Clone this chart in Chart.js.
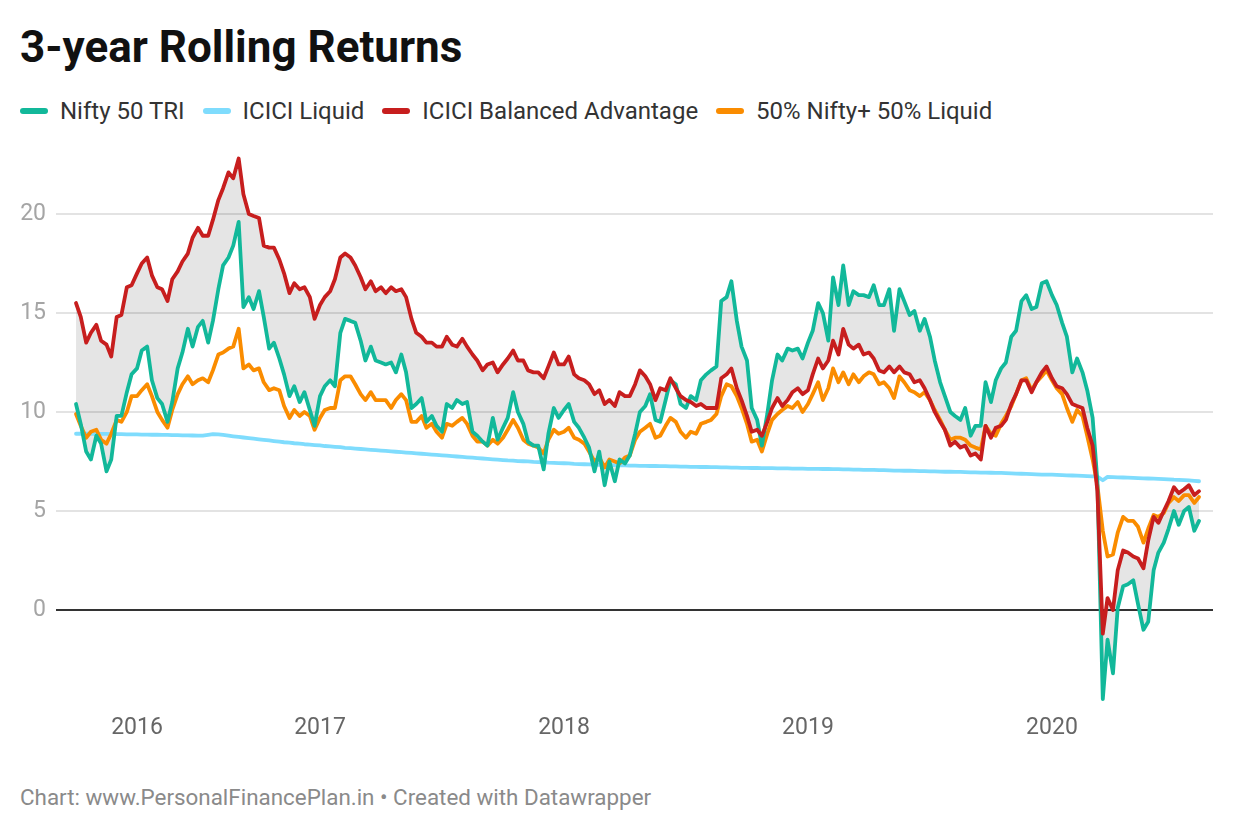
<!DOCTYPE html>
<html>
<head>
<meta charset="utf-8">
<script src="https://cdn.jsdelivr.net/npm/chart.js@4.4.1/dist/chart.umd.min.js"></script>
<style>
html,body{margin:0;padding:0;background:#fff;}
body{width:1240px;height:840px;position:relative;overflow:hidden;font-family:Roboto,"Noto Sans",sans-serif;}
#title{position:absolute;left:20px;top:25px;font-size:44px;line-height:1;font-weight:700;color:#111;white-space:nowrap;}
#legend{position:absolute;left:20px;top:99px;display:flex;align-items:center;font-size:24px;line-height:1;color:#333;white-space:nowrap;}
.item{display:flex;align-items:center;margin-right:18px;}
.swatch{width:28px;height:6px;border-radius:3px;margin-right:12px;}
#wrap{position:absolute;left:0;top:140px;width:1240px;height:640px;}
#footer{position:absolute;left:20px;top:786px;font-size:22.4px;line-height:1;color:#8a8a8a;white-space:nowrap;}
</style>
</head>
<body>
<div id="title">3-year Rolling Returns</div>
<div id="legend"></div>
<div id="wrap"><canvas id="c"></canvas></div>
<div id="footer">Chart: www.PersonalFinancePlan.in • Created with Datawrapper</div>
<script>
// ---------- DATA ----------
const dates = [
"2016-01-01","2016-01-08","2016-01-16","2016-01-23","2016-02-01","2016-02-08","2016-02-16","2016-02-23",
"2016-03-01","2016-03-08","2016-03-16","2016-03-23","2016-04-01","2016-04-08","2016-04-16","2016-04-23",
"2016-05-01","2016-05-08","2016-05-16","2016-05-23","2016-06-01","2016-06-08","2016-06-16","2016-06-23",
"2016-07-01","2016-07-08","2016-07-16","2016-07-23","2016-08-01","2016-08-08","2016-08-16","2016-08-23",
"2016-09-01","2016-09-08","2016-09-16","2016-09-23","2016-10-01","2016-10-08","2016-10-16","2016-10-23",
"2016-11-01","2016-11-08","2016-11-16","2016-11-23","2016-12-01","2016-12-08","2016-12-16","2016-12-23",
"2017-01-01","2017-01-08","2017-01-16","2017-01-23","2017-02-01","2017-02-08","2017-02-16","2017-02-23",
"2017-03-01","2017-03-08","2017-03-16","2017-03-23","2017-04-01","2017-04-08","2017-04-16","2017-04-23",
"2017-05-01","2017-05-08","2017-05-16","2017-05-23","2017-06-01","2017-06-08","2017-06-16","2017-06-23",
"2017-07-01","2017-07-08","2017-07-16","2017-07-23","2017-08-01","2017-08-08","2017-08-16","2017-08-23",
"2017-09-01","2017-09-08","2017-09-16","2017-09-23","2017-10-01","2017-10-08","2017-10-16","2017-10-23",
"2017-11-01","2017-11-08","2017-11-16","2017-11-23","2017-12-01","2017-12-08","2017-12-16","2017-12-23",
"2018-01-01","2018-01-08","2018-01-16","2018-01-23","2018-02-01","2018-02-08","2018-02-16","2018-02-23",
"2018-03-01","2018-03-08","2018-03-16","2018-03-23","2018-04-01","2018-04-08","2018-04-16","2018-04-23",
"2018-05-01","2018-05-08","2018-05-16","2018-05-23","2018-06-01","2018-06-08","2018-06-16","2018-06-23",
"2018-07-01","2018-07-08","2018-07-16","2018-07-23","2018-08-01","2018-08-08","2018-08-16","2018-08-23",
"2018-09-01","2018-09-08","2018-09-16","2018-09-23","2018-10-01","2018-10-08","2018-10-16","2018-10-23",
"2018-11-01","2018-11-08","2018-11-16","2018-11-23","2018-12-01","2018-12-08","2018-12-16","2018-12-23",
"2019-01-01","2019-01-08","2019-01-16","2019-01-23","2019-02-01","2019-02-08","2019-02-16","2019-02-23",
"2019-03-01","2019-03-08","2019-03-16","2019-03-23","2019-04-01","2019-04-08","2019-04-16","2019-04-23",
"2019-05-01","2019-05-08","2019-05-16","2019-05-23","2019-06-01","2019-06-08","2019-06-16","2019-06-23",
"2019-07-01","2019-07-08","2019-07-16","2019-07-23","2019-08-01","2019-08-08","2019-08-16","2019-08-23",
"2019-09-01","2019-09-08","2019-09-16","2019-09-23","2019-10-01","2019-10-08","2019-10-16","2019-10-23",
"2019-11-01","2019-11-08","2019-11-16","2019-11-23","2019-12-01","2019-12-08","2019-12-16","2019-12-23",
"2020-01-01","2020-01-08","2020-01-16","2020-01-23","2020-02-01","2020-02-08","2020-02-16","2020-02-23",
"2020-03-01","2020-03-08","2020-03-16","2020-03-23","2020-04-01","2020-04-08","2020-04-16","2020-04-23",
"2020-05-01","2020-05-08","2020-05-16","2020-05-23","2020-06-01","2020-06-08","2020-06-16","2020-06-23",
"2020-07-01","2020-07-08","2020-07-16","2020-07-23","2020-08-01","2020-08-08"
];

const nifty50TRI = [
10.4, 9.4, 8.0, 7.6, 8.8, 8.4, 7.0, 7.6, 9.8, 9.8,
11.0, 11.9, 12.2, 13.1, 13.3, 11.6, 10.7, 10.4, 9.5, 10.5,
12.2, 13.0, 14.2, 13.3, 14.3, 14.6, 13.5, 14.6, 16.2, 17.4,
17.8, 18.4, 19.6, 15.3, 15.8, 15.2, 16.1, 14.8, 13.2, 13.5,
12.7, 11.9, 10.8, 11.3, 10.5, 11.0, 10.1, 9.3, 10.8, 11.3,
11.6, 11.3, 14.0, 14.7, 14.6, 14.5, 13.6, 12.6, 13.3, 12.6,
12.5, 12.4, 12.5, 12.0, 12.9, 12.0, 10.2, 10.4, 10.7, 9.5,
9.8, 9.3, 9.0, 10.4, 10.2, 10.6, 10.4, 10.5, 9.0, 8.8,
8.5, 8.3, 9.7, 8.6, 9.2, 9.7, 11.0, 10.0, 9.4, 8.5,
8.3, 8.3, 7.1, 8.9, 10.2, 9.7, 10.1, 10.4, 9.5, 9.2,
8.7, 8.2, 7.0, 8.0, 6.3, 7.5, 6.5, 7.6, 7.4, 7.8,
8.9, 10.0, 10.3, 10.9, 9.6, 9.5, 10.6, 11.6, 11.4, 10.4,
10.2, 10.8, 10.6, 11.6, 11.9, 12.1, 12.3, 15.6, 15.8, 16.6,
14.6, 13.3, 12.6, 10.2, 9.6, 8.3, 9.9, 11.6, 12.9, 12.6,
13.2, 13.1, 13.2, 12.7, 13.5, 14.1, 15.5, 15.0, 13.6, 16.8,
15.4, 17.4, 15.4, 16.1, 15.9, 15.9, 15.8, 16.4, 15.4, 15.4,
16.2, 14.1, 16.2, 15.6, 14.9, 15.1, 14.1, 14.7, 13.8, 12.6,
11.5, 10.8, 10.0, 9.8, 9.6, 10.2, 8.8, 9.3, 9.3, 11.5,
10.5, 11.6, 12.2, 12.5, 13.8, 14.1, 15.6, 15.9, 15.2, 15.3,
16.5, 16.6, 15.9, 15.4, 14.5, 13.8, 12.0, 12.7, 12.0, 11.1,
9.7, 6.5, -4.5, -1.5, -3.2, 0.1, 1.2, 1.3, 1.5, 0.3,
-1.0, -0.6, 2.0, 2.9, 3.4, 4.1, 5.0, 4.3, 5.0, 5.2,
4.0, 4.5
];

const iciciLiquid = [
8.90, 8.90, 8.90, 8.90, 8.89, 8.89, 8.89, 8.88, 8.88, 8.88, 8.87, 8.87, 8.87, 8.86, 8.86, 8.85, 8.85, 8.84, 8.84, 8.83, 8.83, 8.82, 8.82, 8.81,
8.80, 8.80, 8.84, 8.88, 8.87, 8.84, 8.80, 8.77,
8.74, 8.71, 8.68, 8.65, 8.62, 8.59, 8.56, 8.53, 8.50, 8.47,
8.45, 8.42, 8.40, 8.37, 8.35, 8.33, 8.31, 8.28, 8.26, 8.24, 8.22, 8.19, 8.17, 8.15,
8.13, 8.11, 8.09, 8.07, 8.05, 8.03, 8.01, 7.99, 7.97, 7.95, 7.93, 7.91, 7.89, 7.87, 7.85,
7.83, 7.81, 7.79, 7.77, 7.75, 7.73, 7.71, 7.69, 7.67, 7.65, 7.63, 7.61, 7.59, 7.57, 7.55,
7.54, 7.52, 7.51, 7.50, 7.48, 7.47, 7.46, 7.44, 7.43, 7.42, 7.41, 7.40, 7.38, 7.37, 7.36,
7.35, 7.34, 7.33, 7.32, 7.32, 7.31, 7.30, 7.30, 7.29, 7.29, 7.28, 7.28,
7.27, 7.27, 7.26, 7.26, 7.25, 7.25, 7.24, 7.24, 7.23, 7.23, 7.22, 7.22, 7.21, 7.21, 7.20, 7.20, 7.19, 7.19,
7.18, 7.18, 7.17, 7.17, 7.16, 7.16, 7.16, 7.15, 7.15, 7.15, 7.14, 7.14, 7.14, 7.13, 7.13, 7.13, 7.12, 7.12,
7.11, 7.11, 7.10, 7.10, 7.09, 7.09, 7.08, 7.07, 7.07, 7.06, 7.06, 7.05, 7.04, 7.04, 7.03, 7.03, 7.02, 7.01,
7.01, 7.00, 7.00, 6.99, 6.98, 6.98, 6.97, 6.97, 6.96, 6.95, 6.95, 6.94, 6.94, 6.93, 6.92, 6.92, 6.91, 6.90,
6.89, 6.88, 6.87, 6.86, 6.85, 6.84, 6.84, 6.83, 6.82, 6.81, 6.80, 6.79, 6.78, 6.77, 6.76, 6.75, 6.74,
6.55,
6.72, 6.71, 6.70, 6.69, 6.68, 6.67, 6.66, 6.65, 6.64, 6.63, 6.62, 6.61, 6.60, 6.58, 6.57, 6.56, 6.54, 6.52, 6.50
];

const iciciBalancedAdvantage = [
15.5, 14.8, 13.5, 14.0, 14.4, 13.6, 13.4, 12.8, 14.8, 14.9,
16.3, 16.4, 17.0, 17.5, 17.8, 16.9, 16.3, 16.2, 15.6, 16.7,
17.1, 17.6, 18.0, 18.8, 19.3, 18.9, 18.9, 19.7, 20.7, 21.3,
22.1, 21.8, 22.8, 21.0, 20.0, 19.9, 19.8, 18.4, 18.3, 18.3,
17.7, 17.0, 16.0, 16.5, 16.2, 16.3, 15.8, 14.7, 15.4, 15.8,
16.1, 16.7, 17.8, 18.0, 17.8, 17.4, 16.8, 16.2, 16.6, 16.1,
16.3, 16.0, 16.3, 16.1, 16.2, 15.8, 14.7, 14.0, 13.8, 13.5,
13.5, 13.3, 13.3, 13.8, 13.4, 13.3, 13.7, 13.3, 12.9, 12.6,
12.1, 12.4, 12.5, 12.0, 12.4, 12.7, 13.1, 12.6, 12.6, 12.1,
12.0, 12.0, 11.7, 12.3, 13.0, 12.4, 12.4, 12.8, 11.9, 11.7,
11.6, 11.4, 10.9, 11.1, 10.4, 10.6, 10.3, 11.0, 10.8, 10.8,
11.4, 12.1, 11.8, 11.4, 10.6, 11.2, 11.1, 11.7, 11.2, 10.8,
10.6, 10.5, 10.3, 10.4, 10.2, 10.2, 10.2, 11.7, 11.9, 12.2,
11.2, 10.6, 9.8, 9.0, 9.1, 8.8, 9.5, 10.2, 10.7, 10.3,
10.6, 11.0, 11.2, 10.9, 11.1, 11.9, 12.7, 12.2, 12.6, 13.6,
12.9, 14.2, 13.4, 13.2, 13.4, 12.9, 13.0, 12.7, 12.1, 12.0,
12.3, 12.0, 12.3, 12.0, 11.9, 11.5, 11.6, 11.2, 10.6, 10.0,
9.5, 9.1, 8.3, 8.5, 8.2, 8.3, 7.8, 7.9, 7.6, 9.3,
8.7, 9.2, 9.3, 9.6, 10.4, 10.9, 11.6, 11.6, 11.0, 11.5,
12.0, 12.3, 11.7, 11.3, 11.2, 10.9, 10.4, 10.3, 10.2, 9.2,
8.3, 6.0, -1.2, 0.6, 0.0, 2.0, 3.0, 2.9, 2.7, 2.6,
2.1, 3.5, 4.7, 4.4, 5.0, 5.5, 6.2, 5.9, 6.1, 6.3,
5.8, 6.0
];

const niftyLiquidBlend = [
9.9, 9.3, 8.7, 9.0, 9.1, 8.6, 8.4, 8.9, 9.6, 9.5,
10.0, 10.8, 10.8, 11.1, 11.4, 10.8, 10.0, 9.6, 9.2, 10.1,
10.9, 11.4, 11.8, 11.4, 11.6, 11.7, 11.5, 12.1, 12.9, 13.0,
13.2, 13.3, 14.2, 12.2, 12.4, 12.1, 12.2, 11.5, 11.1, 11.2,
11.1, 10.3, 9.7, 10.1, 9.8, 10.0, 9.8, 9.1, 9.7, 10.1,
10.2, 10.2, 11.6, 11.8, 11.8, 11.4, 10.9, 10.6, 11.0, 10.6,
10.6, 10.6, 10.2, 10.6, 10.9, 10.6, 9.5, 9.5, 9.8, 9.2,
9.4, 9.0, 8.7, 9.4, 9.3, 9.5, 9.7, 9.4, 8.8, 8.5,
8.5, 8.3, 8.6, 8.4, 8.7, 9.1, 9.6, 9.2, 8.6, 8.4,
8.3, 8.2, 7.9, 8.6, 9.1, 8.9, 9.0, 9.2, 8.7, 8.6,
8.4, 8.0, 7.5, 7.7, 7.2, 7.6, 7.5, 7.4, 7.7, 7.8,
8.6, 9.0, 9.2, 9.4, 8.7, 8.8, 9.3, 9.7, 9.5, 9.0,
8.7, 9.0, 8.9, 9.4, 9.5, 9.6, 9.9, 10.8, 11.4, 11.3,
10.8, 10.2, 9.4, 8.5, 8.6, 8.0, 8.9, 9.6, 9.9, 10.1,
10.3, 10.2, 10.5, 10.0, 10.4, 10.9, 11.5, 10.6, 11.2, 12.2,
11.5, 12.0, 11.4, 11.9, 11.5, 11.8, 12.0, 11.9, 11.4, 11.5,
11.2, 10.7, 11.8, 11.5, 11.1, 11.0, 10.8, 11.0, 10.6, 10.1,
9.6, 9.1, 8.6, 8.7, 8.7, 8.6, 8.3, 8.2, 8.1, 9.3,
8.9, 8.8, 9.4, 9.8, 10.3, 10.9, 11.6, 11.7, 11.1, 11.5,
11.8, 12.1, 11.6, 11.2, 10.9, 10.2, 9.5, 10.1, 9.8, 8.8,
7.6, 6.3, 4.0, 2.7, 2.8, 3.9, 4.7, 4.5, 4.5, 4.2,
3.4, 4.1, 4.8, 4.7, 4.9, 5.4, 5.7, 5.5, 5.8, 5.8,
5.4, 5.7
];

const seriesNames = ["Nifty 50 TRI", "ICICI Liquid", "ICICI Balanced Advantage", "50% Nifty+ 50% Liquid"];
const xTickValues = [2016.25, 2017, 2018, 2019, 2020];
const xTickLabels = ["2016", "2017", "2018", "2019", "2020"];
const yTickValues = [0, 5, 10, 15, 20];

// ---------- STYLE ----------
const colors = ["#12b89a", "#7fdcfd", "#c71e1e", "#fa8c00"];
const fillGrey = "rgba(0,0,0,0.10)";

// ---------- BUILD ----------
function toYear(s){ const p = s.split("-").map(Number); return p[0] + (p[1]-1)/12 + (p[2]-1)/360; }
const xs = dates.map(toYear);
const pts = arr => arr.map((v,i) => ({x: xs[i], y: v}));

const legend = document.getElementById("legend");
seriesNames.forEach((n,i) => {
  const it = document.createElement("div"); it.className = "item";
  const sw = document.createElement("span"); sw.className = "swatch"; sw.style.background = colors[i];
  const tx = document.createElement("span"); tx.textContent = n;
  it.appendChild(sw); it.appendChild(tx); legend.appendChild(it);
});

const common = {pointRadius:0, pointHoverRadius:0, borderWidth:3.8, tension:0, borderJoinStyle:"round", borderCapStyle:"round"};

new Chart(document.getElementById("c"), {
  type: "line",
  data: {
    datasets: [
      Object.assign({label: seriesNames[0], data: pts(nifty50TRI), borderColor: colors[0], order: 2,
        fill: {target: 2, above: fillGrey, below: fillGrey}}, common),
      Object.assign({label: seriesNames[1], data: pts(iciciLiquid), borderColor: colors[1], order: 4, fill:false}, common),
      Object.assign({label: seriesNames[2], data: pts(iciciBalancedAdvantage), borderColor: colors[2], order: 1, fill:false}, common),
      Object.assign({label: seriesNames[3], data: pts(niftyLiquidBlend), borderColor: colors[3], order: 3, fill:false}, common)
    ]
  },
  options: {
    responsive: true,
    maintainAspectRatio: false,
    animation: false,
    events: [],
    layout: {padding: {top: 10.6, right: 27, left: 0, bottom: 0}},
    plugins: {
      legend: {display: false},
      tooltip: {enabled: false},
      filler: {drawTime: "beforeDatasetsDraw"}
    },
    scales: {
      x: {
        type: "linear",
        min: 2015.918, max: 2020.66,
        grid: {display: false, drawTicks: false},
        border: {display: false},
        afterBuildTicks: s => { s.ticks = xTickValues.map(v => ({value: v})); },
        afterFit: s => { s.height = 75; s.paddingLeft = 0; s.paddingRight = 0; },
        ticks: {
          autoSkip: false, maxRotation: 0, padding: 9,
          color: "#666", font: {family: "Roboto", size: 23},
          callback: (v) => { const k = xTickValues.indexOf(v); return k >= 0 ? xTickLabels[k] : ""; }
        }
      },
      y: {
        min: -4.8, max: 23.2,
        afterBuildTicks: s => { s.ticks = yTickValues.map(v => ({value: v})); },
        afterFit: s => { s.width = 56; s.paddingTop = 0; s.paddingBottom = 0; },
        border: {display: false},
        grid: {
          drawTicks: false,
          color: c => c.tick && c.tick.value === 0 ? "#333" : "#e3e3e3",
          lineWidth: 2
        },
        ticks: {padding: 10, color: "#a5a5a5", font: {family: "Roboto", size: 23}}
      }
    }
  }
});
</script>
</body>
</html>
